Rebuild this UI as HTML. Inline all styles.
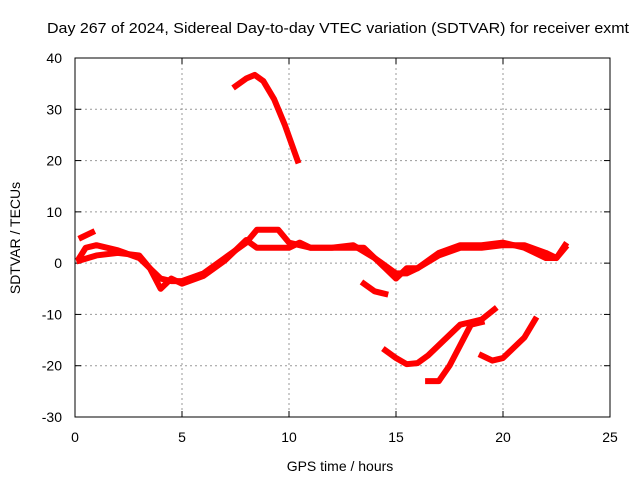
<!DOCTYPE html>
<html><head><meta charset="utf-8"><style>
body{margin:0;background:#fff}
svg text{font-family:"Liberation Sans",sans-serif;font-size:14px;fill:#000}
</style></head><body>
<svg width="640" height="480">
<text x="338" y="33" text-anchor="middle" textLength="582" lengthAdjust="spacingAndGlyphs" style="font-size:15px">Day 267 of 2024, Sidereal Day-to-day VTEC variation (SDTVAR) for receiver exmt</text>
<g id="grid"></g>
<g id="axes"></g>
<g id="series"></g>
<rect x="75" y="58" width="535" height="359" fill="none" stroke="#000"/>
<text x="340" y="471" text-anchor="middle">GPS time / hours</text>
<text transform="translate(20,238) rotate(-90)" text-anchor="middle">SDTVAR / TECUs</text>
</svg>
<script>
const xTicks=[0,5,10,15,20,25];
const yTicks=[-30,-20,-10,0,10,20,30,40];
const bandUpper=[[0.2,1],[0.5,3],[1,3.5],[2,2.5],[3,1],[3.5,-1],[4,-3],[4.5,-3.5],[5,-3.5],[6,-2],[7,1],[8,4],[8.5,6.5],[9.5,6.5],[10,4],[10.5,3.5],[11,3],[12,3],[13,3],[13.5,3],[14,1],[14.5,-1],[15,-3],[15.5,-1],[16,-1],[17,1.5],[18,3],[19,3],[20,3.5],[21,3.5],[22,2],[22.5,1],[22.9,3]];
const bandLower=[[0.2,0.5],[1,1.5],[2,2],[3,1.5],[3.5,-1],[4,-5],[4.5,-3],[5,-4],[6,-2.5],[7,0.5],[8,4.5],[8.5,3],[9,3],[10,3],[10.5,4],[11,3],[12,3],[13,3.5],[14,1],[15,-2],[15.5,-2],[16,-1],[17,2],[18,3.5],[19,3.5],[20,4],[21,3],[22,1],[22.5,1],[22.9,3.5]];
const shortStart=[[0.3,5],[0.8,6]];
const highArc=[[7.5,34.5],[8,36],[8.4,36.7],[8.8,35.5],[9.3,32],[9.8,27],[10.1,23.5],[10.4,20]];
const dip1=[[13.5,-4],[14,-5.5],[14.5,-6]];
const lowA=[[14.5,-17],[15,-18.5],[15.5,-19.7],[16,-19.5],[16.5,-18],[17,-16],[17.5,-14],[18,-12],[18.5,-11.5],[19,-11],[19.6,-9]];
const lowB=[[16.5,-23],[17,-23],[17.5,-20],[18,-16],[18.5,-12],[19,-11.5]];
const lowC=[[19,-18],[19.5,-19],[20,-18.5],[20.5,-16.5],[21,-14.5],[21.5,-11]];
const allSeries=[bandUpper,bandLower,shortStart,highArc,dip1,lowA,lowB,lowC];
const X=h=>75+h*535/25, Y=v=>58+(40-v)*359/70;
const NS='http://www.w3.org/2000/svg';
const g=document.getElementById('grid'),a=document.getElementById('axes'),s=document.getElementById('series');
function mk(p,t,at){const e=document.createElementNS(NS,t);for(const k in at)e.setAttribute(k,at[k]);p.appendChild(e);return e;}
xTicks.forEach(t=>{const x=X(t);
 if(t>0&&t<25){const l=mk(g,'line',{x1:x,x2:x,y1:58,y2:417,stroke:'#999','stroke-dasharray':'2,3'});
 
 }
 mk(a,'line',{x1:x,x2:x,y1:417,y2:411,stroke:'#000'});mk(a,'line',{x1:x,x2:x,y1:58,y2:64,stroke:'#000'});
 const tx=mk(a,'text',{x:x,y:442,'text-anchor':'middle'});tx.textContent=t;
 
 });
yTicks.forEach(t=>{const y=Y(t);
 if(t>-30&&t<40){const l=mk(g,'line',{x1:75,x2:610,y1:y,y2:y,stroke:'#999','stroke-dasharray':'2,3'});
 
 }
 mk(a,'line',{x1:75,x2:81,y1:y,y2:y,stroke:'#000'});mk(a,'line',{x1:604,x2:610,y1:y,y2:y,stroke:'#000'});
 const tx=mk(a,'text',{x:62,y:y+5,'text-anchor':'end'});tx.textContent=t;
 
 });
allSeries.forEach(ser=>{const p=mk(s,'polyline',{points:ser.map(d=>X(d[0])+','+Y(d[1])).join(' '),fill:'none',stroke:'#f00','stroke-width':6,'stroke-linejoin':'round','stroke-linecap':'square'});
 
 });
</script>
</body></html>
